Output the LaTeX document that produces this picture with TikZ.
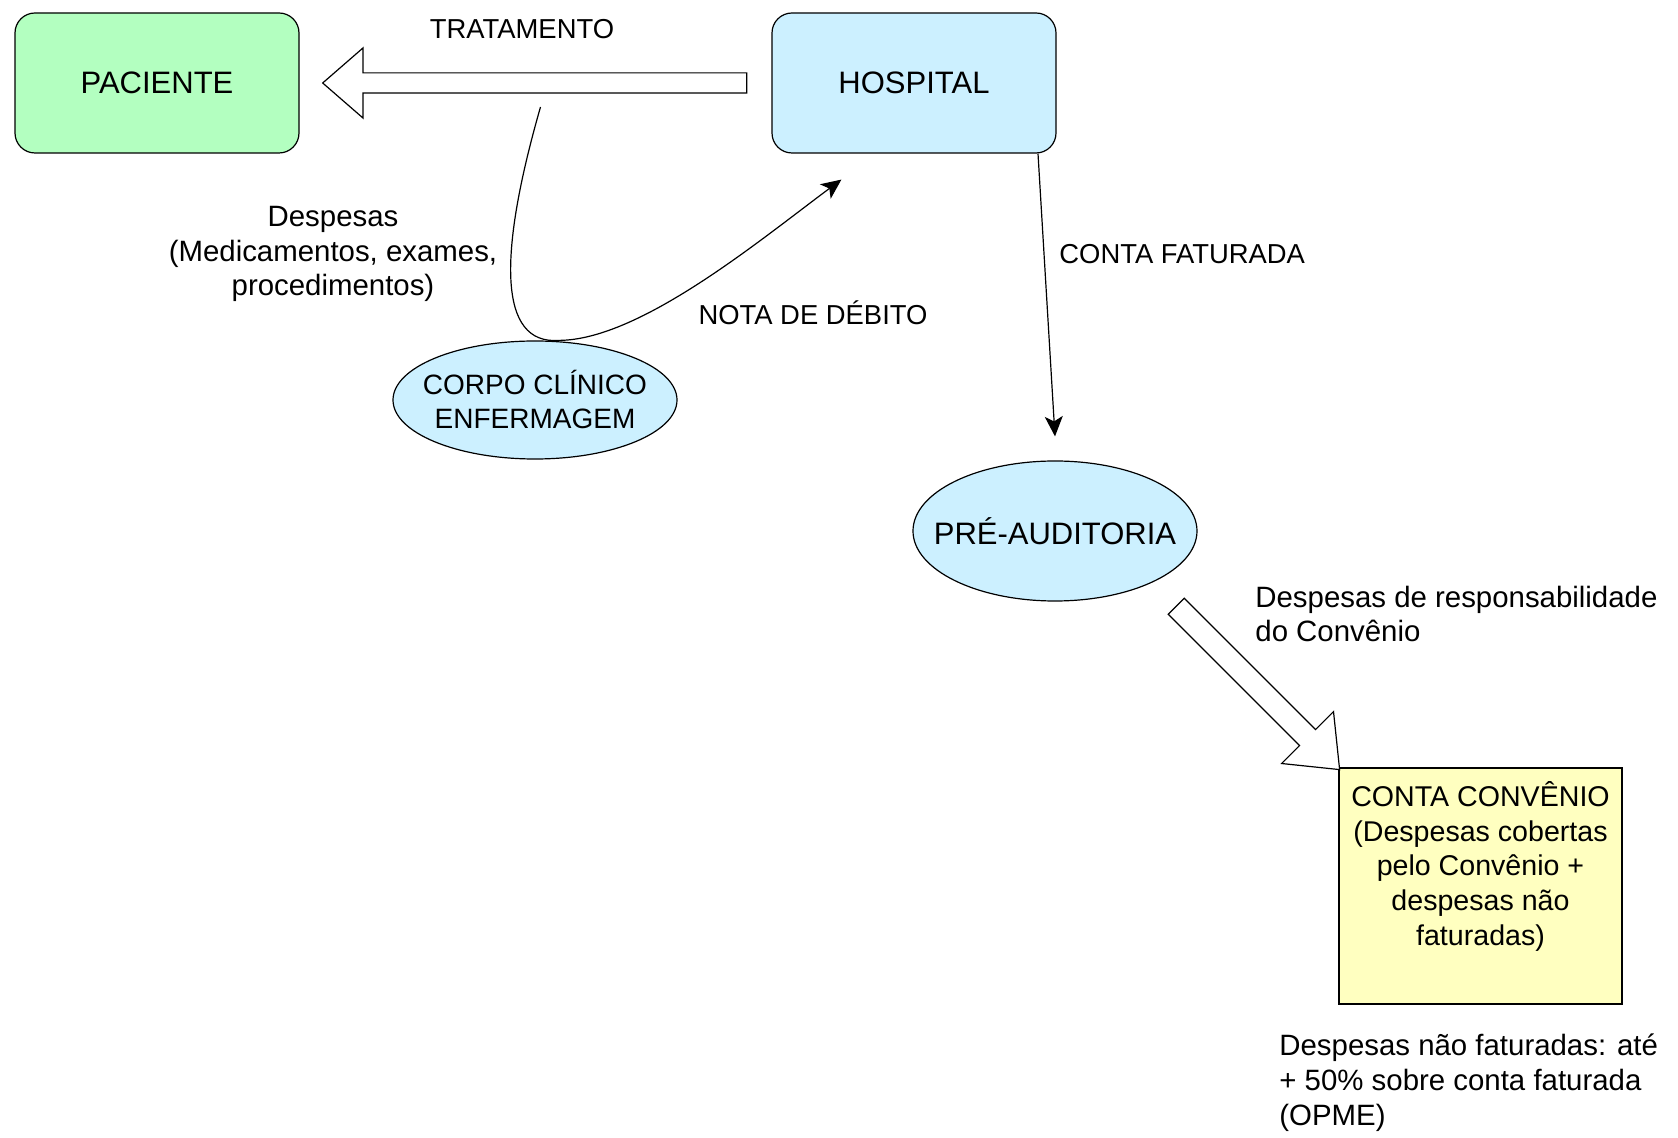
\documentclass[tikz,border=0pt]{standalone}
\usepackage{fontspec}
\setmainfont{Liberation Sans}
\usetikzlibrary{
  arrows.meta,
  shapes.geometric,
  shapes.arrows,
  calc
}
\definecolor{patgreen}{HTML}{B3FFC0}
\definecolor{hospblue}{HTML}{CCF0FF}
\definecolor{convyellow}{HTML}{FFFFC0}
\tikzset{
  actor/.style={
    draw,
    line width=0.6pt,
    rounded corners=10pt,
    minimum width=142pt,
    minimum height=70pt,
    font=\fontsize{15.5}{18}\selectfont
  },
  team/.style={
    draw,
    line width=0.6pt,
    ellipse,
    fill=hospblue,
    minimum width=142pt,
    minimum height=59pt,
    align=center,
    inner ysep=0pt,
    inner xsep=-9pt,
    font=\fontsize{14}{17}\selectfont
  },
  convbox/.style={
    draw,
    line width=0.6pt,
    fill=convyellow,
    minimum width=141.5pt,
    minimum height=118pt
  },
  convtext/.style={
    anchor=north,
    align=center,
    inner sep=0pt,
    yshift=-7pt,
    font=\fontsize{14.3}{17.3}\selectfont
  },
  fatarrow/.style={
    draw,
    line width=0.6pt,
    fill=white,
    single arrow,
    inner sep=0pt
  },
  conn/.style={
    draw,
    line width=0.6pt,
    -{Stealth[length=10pt,width=9pt,inset=2.5pt]}
  },
  elabel/.style={
    inner sep=0pt,
    font=\fontsize{13.7}{17}\selectfont
  },
  note/.style={
    inner sep=0pt,
    align=center,
    font=\fontsize{14.7}{17.4}\selectfont
  }
}
\begin{document}
\begin{tikzpicture}[x=0.5pt, y=-0.5pt]
  \fill[white] (0,0) rectangle (1678,1138);
  \useasboundingbox (0,0) rectangle (1678,1138);

  \node[actor, fill=patgreen] (pac) at (157,83) {PACIENTE};
  \node[actor, fill=hospblue] (hosp) at (914,83) {HOSPITAL};
  \node[team] (corpo) at (535,400) {CORPO CLÍNICO\\ENFERMAGEM};
  \node[team, minimum height=70pt, inner xsep=-13pt, font=\fontsize{15.5}{18}\selectfont] (pre) at (1055,531) {PRÉ-AUDITORIA};
  \node[convbox, label={[convtext]north:{CONTA CONVÊNIO\\(Despesas cobertas\\pelo Convênio +\\despesas não\\faturadas)}}] (conv) at (1480.5,886) {};

  \node[fatarrow, rotate=180, minimum height=212pt, inner ysep=4.75pt,
    single arrow head extend=12.5pt, single arrow tip angle=82]
    (trat) at ([xshift=2.5pt]$(hosp.west)!.5!(pac.east)$) {};
  \node[fatarrow, rotate=-45, minimum height=115.5pt, inner ysep=5.35pt,
    single arrow head extend=12.7pt, single arrow tip angle=78]
    (resp) at (1253,683) {};

  \draw[conn] ([yshift=-12pt]trat.center) .. controls (498,255) and (498,345) .. ([xshift=12pt]corpo.north)
    .. controls (640,340) and (760,240) .. ([shift={(35pt,-13pt)}]hosp.south west);
  \draw[conn] ([xshift=62pt]hosp.south) -- ([yshift=12pt]pre.north);

  \node[elabel] (tratlbl) at (522,29) {TRATAMENTO};
  \node[elabel] (notalbl) at (813,313) {NOTA DE DÉBITO};
  \node[elabel, anchor=west] (contalbl) at (1059,254) {CONTA FATURADA};
  \node[note] (desplbl) at (333,254) {Despesas\\(Medicamentos, exames,\\procedimentos)};
  \node[note, anchor=west, align=left] (resplbl) at (1255,614) {Despesas de responsabilidade\\do Convênio};
  \node[note, anchor=west, align=left] (opmelbl) at (1279,1083) {Despesas não faturadas: até\\+ 50\% sobre conta faturada\\(OPME)};
\end{tikzpicture}
\end{document}
